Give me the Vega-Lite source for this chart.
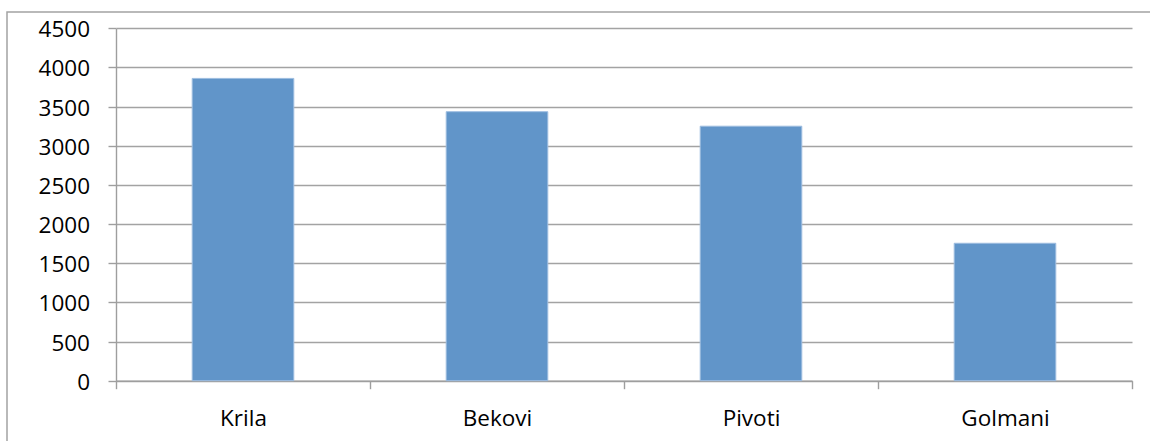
{
  "$schema": "https://vega.github.io/schema/vega-lite/v6.json",
  "width": 1143,
  "height": 429,
  "autosize": {"type": "none"},
  "padding": {"left": 7, "top": 12, "right": 0, "bottom": 0},
  "background": "white",
  "config": {
    "view": {"stroke": "#a3a3a3", "strokeWidth": 1.5, "strokeDash": [1143, 1572, 429]},
    "font": "Open Sans",
    "axis": {
      "domainColor": "#9e9e9e",
      "domainWidth": 1.4,
      "tickColor": "#9e9e9e",
      "tickWidth": 1.4,
      "gridColor": "#a3a3a3",
      "gridWidth": 1.3,
      "labelColor": "#000000",
      "labelFont": "Open Sans",
      "labelFontSize": 22.5,
      "title": null
    }
  },
  "data": {
    "values": [
      {"position": "Krila", "value": 3860},
      {"position": "Bekovi", "value": 3435},
      {"position": "Pivoti", "value": 3250},
      {"position": "Golmani", "value": 1755}
    ]
  },
  "mark": {"type": "bar", "width": {"band": 0.4}, "fill": "#6195C9", "stroke": "#9dbde0", "strokeWidth": 1},
  "encoding": {
    "x": {
      "field": "position",
      "type": "nominal",
      "sort": null,
      "scale": {"range": [109, 1125], "paddingInner": 0, "paddingOuter": 0},
      "axis": {
        "orient": "bottom",
        "offset": -60.3,
        "tickBand": "extent",
        "grid": false,
        "tickSize": 8,
        "labelPadding": 18.5,
        "labelAngle": 0
      }
    },
    "y": {
      "field": "value",
      "type": "quantitative",
      "scale": {"domain": [0, 4500], "range": [368.7, 16.3], "nice": false, "zero": true},
      "axis": {
        "orient": "left",
        "offset": -109,
        "format": "d",
        "values": [0, 500, 1000, 1500, 2000, 2500, 3000, 3500, 4000, 4500],
        "grid": true,
        "tickSize": 8,
        "labelPadding": 18.5,
        "labelBaseline": "middle",
        "labelOffset": 1.5
      }
    }
  }
}
